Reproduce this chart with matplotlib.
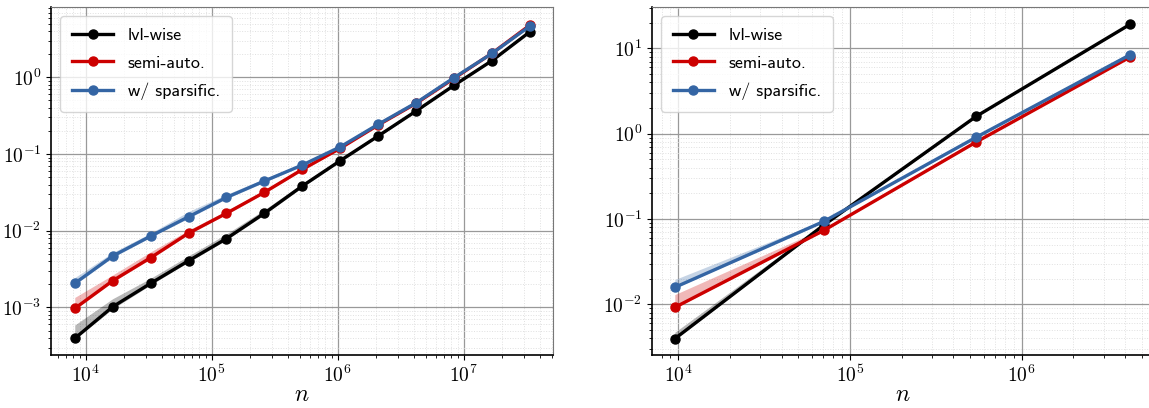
import numpy as np
import matplotlib
matplotlib.use("Agg")
import matplotlib.pyplot as plt
import matplotlib.ticker as ticker

# ─── data ────────────────────────────────────────────────────────────────────

n_left = [8192, 16384, 32768, 65536, 131072, 262144, 524288, 1048576,
          2097152, 4194304, 8388608, 16777216, 33554432]

lvl_left     = [3.95e-4, 1.02e-3, 2.06e-3, 4.06e-3, 7.9e-3, 1.69e-2, 3.83e-2,
                8.2e-2, 0.172, 0.364, 0.787, 1.65, 3.93]
lvl_left_hi  = [5.9e-4, 1.3e-3, 2.4e-3, 4.7e-3, 9.1e-3, 1.88e-2, 4.15e-2,
                8.8e-2, 0.184, 0.39, 0.84, 1.78, 4.2]
lvl_left_lo  = [3.85e-4, 9.6e-4, 1.97e-3, 3.9e-3, 7.6e-3, 1.62e-2, 3.7e-2,
                7.9e-2, 0.167, 0.355, 0.77, 1.62, 3.85]

semi_left    = [9.7e-4, 2.23e-3, 4.45e-3, 9.3e-3, 1.69e-2, 3.17e-2, 6.3e-2,
                0.119, 0.239, 0.458, 0.97, 2.06, 4.8]
semi_left_hi = [1.35e-3, 2.65e-3, 5.3e-3, 1.02e-2, 1.82e-2, 3.38e-2, 6.6e-2,
                0.125, 0.247, 0.47, 0.99, 2.1, 4.9]
semi_left_lo = [9.4e-4, 2.15e-3, 4.3e-3, 9.0e-3, 1.64e-2, 3.08e-2, 6.1e-2,
                0.116, 0.233, 0.45, 0.95, 2.02, 4.7]

spar_left    = [2.06e-3, 4.68e-3, 8.5e-3, 1.52e-2, 2.72e-2, 4.45e-2, 7.19e-2,
                0.124, 0.244, 0.466, 0.99, 2.05, 4.67]
spar_left_hi = [2.45e-3, 5.2e-3, 9.3e-3, 1.78e-2, 2.98e-2, 4.78e-2, 7.55e-2,
                0.129, 0.251, 0.476, 1.0, 2.08, 4.75]
spar_left_lo = [1.98e-3, 4.5e-3, 8.2e-3, 1.46e-2, 2.62e-2, 4.3e-2, 7.0e-2,
                0.121, 0.238, 0.457, 0.97, 2.01, 4.6]

n_right = [9550, 70500, 545000, 4280000]

lvl_right     = [3.95e-3, 8.5e-2, 1.6, 19.1]
lvl_right_hi  = [4.7e-3, 8.9e-2, 1.65, 19.5]
lvl_right_lo  = [3.85e-3, 8.3e-2, 1.57, 18.8]

semi_right    = [9.2e-3, 7.35e-2, 0.80, 7.9]
semi_right_hi = [1.3e-2, 7.8e-2, 0.83, 8.5]
semi_right_lo = [9.0e-3, 7.2e-2, 0.79, 7.8]

spar_right    = [1.58e-2, 9.37e-2, 0.91, 8.4]
spar_right_hi = [1.95e-2, 9.7e-2, 0.94, 8.9]
spar_right_lo = [1.55e-2, 9.2e-2, 0.89, 8.2]

labels = ["lvl-wise", "semi-auto.", "w/ sparsific."]

# ─── style ───────────────────────────────────────────────────────────────────

C_BLACK = "#000000"
C_RED   = "#cc0000"
C_BLUE  = "#3465a4"

plt.rcParams["mathtext.fontset"] = "cm"
LEGEND_FONT = {"family": ["cmss10", "DejaVu Sans"], "size": 13}


def _fmt(v, pos):
    return r"$10^{%d}$" % int(round(np.log10(v)))


def _fill_ax(ax, n, series):
    for (y, lo, hi), color, lab in zip(series, [C_BLACK, C_RED, C_BLUE], labels):
        ax.fill_between(n, lo, hi, color=color, alpha=0.28, lw=0)
        ax.plot(n, y, color=color, lw=2.4, marker="o", ms=6.5, label=lab)
    ax.set_xscale("log")
    ax.set_yscale("log")
    ax.xaxis.set_major_formatter(ticker.FuncFormatter(_fmt))
    ax.yaxis.set_major_formatter(ticker.FuncFormatter(_fmt))
    ax.xaxis.set_minor_formatter(ticker.NullFormatter())
    ax.yaxis.set_minor_formatter(ticker.NullFormatter())
    ax.yaxis.set_minor_locator(ticker.LogLocator(base=10, subs=np.arange(2, 10), numticks=20))
    ax.grid(True, which="major", color="#999999", lw=0.9, ls="-")
    ax.grid(True, which="minor", color="#e0e0e0", lw=0.7, ls=":")
    ax.set_axisbelow(True)
    ax.tick_params(labelsize=14)
    for s in ("top", "right"):
        ax.spines[s].set_color("#777777")
    for s in ("left", "bottom"):
        ax.spines[s].set_color("black")
        ax.spines[s].set_linewidth(1.2)
    ax.set_xlabel(r"$n$", fontsize=17, labelpad=-3)
    ax.legend(loc="upper left", prop=LEGEND_FONT, handlelength=2.3,
              borderpad=0.65, labelspacing=0.65, framealpha=0.8)


fig = plt.figure(figsize=(11.49, 4.08), dpi=100)
ax1 = fig.add_axes([0.0444, 0.1299, 0.4369, 0.8529])
ax2 = fig.add_axes([0.5674, 0.1299, 0.4361, 0.8529])

_fill_ax(ax1, n_left, [(lvl_left, lvl_left_lo, lvl_left_hi),
                       (semi_left, semi_left_lo, semi_left_hi),
                       (spar_left, spar_left_lo, spar_left_hi)])
_fill_ax(ax2, n_right, [(lvl_right, lvl_right_lo, lvl_right_hi),
                        (semi_right, semi_right_lo, semi_right_hi),
                        (spar_right, spar_right_lo, spar_right_hi)])

ax1.set_xlim(10 ** 3.725, 10 ** 7.709)
ax1.set_ylim(10 ** -3.62, 10 ** 0.917)
ax2.set_xlim(10 ** 3.847, 10 ** 6.765)
ax2.set_ylim(10 ** -2.594, 10 ** 1.484)

fig.savefig("out.png", dpi=100)
